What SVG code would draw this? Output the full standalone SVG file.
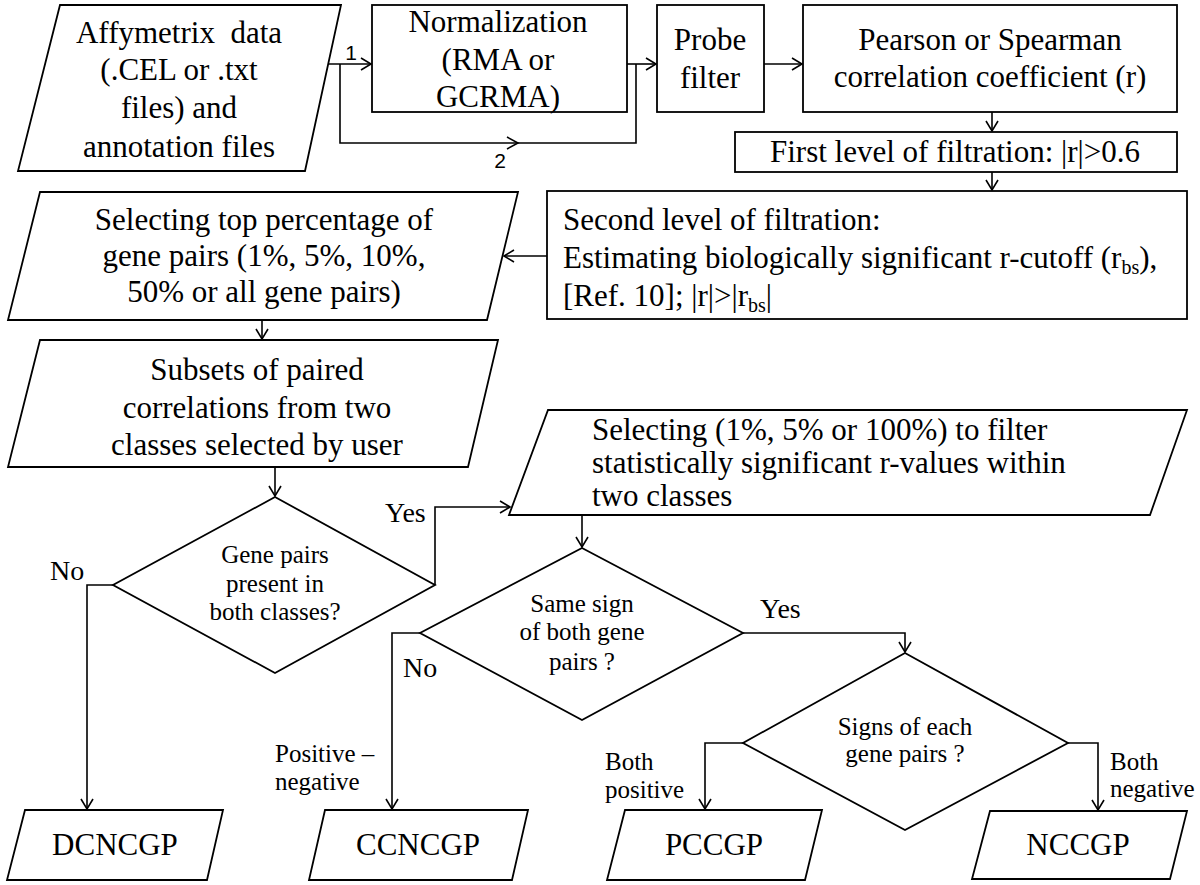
<svg xmlns="http://www.w3.org/2000/svg" width="1200" height="885" viewBox="0 0 1200 885">
<style>
.n{fill:#fff;stroke:#000;stroke-width:1.8}
.c{stroke:#000;stroke-width:1.6;fill:none}
</style>
<defs>
<marker id="a" markerUnits="userSpaceOnUse" markerWidth="14" markerHeight="14" refX="11" refY="7" orient="auto">
<path d="M1,1 L11,7 L1,13" fill="none" stroke="#000" stroke-width="1.6"/>
</marker>
</defs>
<rect width="1200" height="885" fill="#fff"/>

<g id="connectors">
<path class="c" d="M327,64 H371" marker-end="url(#a)"/>
<path class="c" d="M340,64 V143 H636 V64"/>
<path class="c" d="M507,137 L518,143 L507,149"/>
<path class="c" d="M627,64 H656" marker-end="url(#a)"/>
<path class="c" d="M764,64 H802" marker-end="url(#a)"/>
<path class="c" d="M992,112 V131" marker-end="url(#a)"/>
<path class="c" d="M992,172 V190" marker-end="url(#a)"/>
<path class="c" d="M547,256 H504" marker-end="url(#a)"/>
<path class="c" d="M262,320 V339" marker-end="url(#a)"/>
<path class="c" d="M275,467 V496" marker-end="url(#a)"/>
<path class="c" d="M435,585 V507 H510" marker-end="url(#a)"/>
<path class="c" d="M113,585 H87 V809" marker-end="url(#a)"/>
<path class="c" d="M582,515 V547" marker-end="url(#a)"/>
<path class="c" d="M420,633 H392 V809" marker-end="url(#a)"/>
<path class="c" d="M743,633 H905 V652" marker-end="url(#a)"/>
<path class="c" d="M743,743 H705 V809" marker-end="url(#a)"/>
<path class="c" d="M1068,743 H1098 V810" marker-end="url(#a)"/>
<text font-family="Liberation Sans" font-size="21" text-anchor="middle" x="351" y="60">1</text>
<text font-family="Liberation Sans" font-size="21" text-anchor="middle" x="500" y="168">2</text>
<text font-family="Liberation Serif" font-size="28" x="385" y="522">Yes</text>
<text font-family="Liberation Serif" font-size="28" x="50" y="580">No</text>
<text font-family="Liberation Serif" font-size="28" x="403" y="677">No</text>
<text font-family="Liberation Serif" font-size="28" x="760" y="618">Yes</text>
<text font-family="Liberation Serif" font-size="25" x="275" y="762">Positive –</text>
<text font-family="Liberation Serif" font-size="25" x="275" y="790">negative</text>
<text font-family="Liberation Serif" font-size="25" x="605" y="770">Both</text>
<text font-family="Liberation Serif" font-size="25" x="605" y="798">positive</text>
<text font-family="Liberation Serif" font-size="25" x="1110" y="770">Both</text>
<text font-family="Liberation Serif" font-size="25" x="1110" y="797">negative</text>
</g>

<g id="affymetrix">
<polygon class="n" points="60,5 341,5 305,171 18,171"/>
<text font-family="Liberation Serif" font-size="31" text-anchor="middle" x="179" y="43" xml:space="preserve">Affymetrix  data</text>
<text font-family="Liberation Serif" font-size="31" text-anchor="middle" x="179" y="80">(.CEL or .txt</text>
<text font-family="Liberation Serif" font-size="31" text-anchor="middle" x="179" y="118">files) and</text>
<text font-family="Liberation Serif" font-size="31" text-anchor="middle" x="179" y="157">annotation files</text>
</g>

<g id="normalization">
<rect class="n" x="372" y="5" width="255" height="107"/>
<text font-family="Liberation Serif" font-size="31" text-anchor="middle" x="498" y="32">Normalization</text>
<text font-family="Liberation Serif" font-size="31" text-anchor="middle" x="498" y="70">(RMA or</text>
<text font-family="Liberation Serif" font-size="31" text-anchor="middle" x="498" y="107">GCRMA)</text>
</g>

<g id="probe">
<rect class="n" x="657" y="5" width="107" height="107"/>
<text font-family="Liberation Serif" font-size="31" text-anchor="middle" x="710" y="50">Probe</text>
<text font-family="Liberation Serif" font-size="31" text-anchor="middle" x="710" y="88">filter</text>
</g>

<g id="pearson">
<rect class="n" x="803" y="5" width="374" height="107"/>
<text font-family="Liberation Serif" font-size="31" text-anchor="middle" x="990" y="50">Pearson or Spearman</text>
<text font-family="Liberation Serif" font-size="31" text-anchor="middle" x="990" y="87">correlation coefficient (r)</text>
</g>

<g id="first">
<rect class="n" x="735" y="132" width="442" height="40"/>
<text font-family="Liberation Serif" font-size="31" text-anchor="middle" x="955" y="162">First level of filtration: |r|&gt;0.6</text>
</g>

<g id="second">
<rect class="n" x="547" y="191" width="640" height="128"/>
<text font-family="Liberation Serif" font-size="31" x="563" y="230">Second level of filtration:</text>
<text font-family="Liberation Serif" font-size="31" x="563" y="268">Estimating biologically significant r-cutoff (r<tspan font-size="20" dy="6">bs</tspan><tspan dy="-6">),</tspan></text>
<text font-family="Liberation Serif" font-size="31" x="563" y="306">[Ref. 10]; |r|&gt;|r<tspan font-size="20" dy="6">bs</tspan><tspan dy="-6">|</tspan></text>
</g>

<g id="selecting-top">
<polygon class="n" points="40,192 518,192 487,320 8,320"/>
<text font-family="Liberation Serif" font-size="31" text-anchor="middle" x="264" y="230">Selecting top percentage of</text>
<text font-family="Liberation Serif" font-size="31" text-anchor="middle" x="264" y="266">gene pairs (1%, 5%, 10%,</text>
<text font-family="Liberation Serif" font-size="31" text-anchor="middle" x="264" y="302">50% or all gene pairs)</text>
</g>

<g id="subsets">
<polygon class="n" points="40,340 498,340 468,467 8,467"/>
<text font-family="Liberation Serif" font-size="31" text-anchor="middle" x="257" y="380">Subsets of paired</text>
<text font-family="Liberation Serif" font-size="31" text-anchor="middle" x="257" y="418">correlations from two</text>
<text font-family="Liberation Serif" font-size="31" text-anchor="middle" x="257" y="455">classes selected by user</text>
</g>

<g id="selecting-sig">
<polygon class="n" points="548,410 1187,410 1150,515 509,515"/>
<text font-family="Liberation Serif" font-size="31" x="592" y="440">Selecting (1%, 5% or 100%) to filter</text>
<text font-family="Liberation Serif" font-size="31" x="592" y="473">statistically significant r-values within</text>
<text font-family="Liberation Serif" font-size="31" x="592" y="506">two classes</text>
</g>

<g id="diamond-present">
<polygon class="n" points="275,497 435,585 275,673 113,585"/>
<text font-family="Liberation Serif" font-size="25" text-anchor="middle" x="275" y="563">Gene pairs</text>
<text font-family="Liberation Serif" font-size="25" text-anchor="middle" x="275" y="592">present in</text>
<text font-family="Liberation Serif" font-size="25" text-anchor="middle" x="275" y="620">both classes?</text>
</g>

<g id="diamond-same">
<polygon class="n" points="582,548 743,633 582,720 420,633"/>
<text font-family="Liberation Serif" font-size="25" text-anchor="middle" x="582" y="612">Same sign</text>
<text font-family="Liberation Serif" font-size="25" text-anchor="middle" x="582" y="640">of both gene</text>
<text font-family="Liberation Serif" font-size="25" text-anchor="middle" x="582" y="670">pairs ?</text>
</g>

<g id="diamond-signs">
<polygon class="n" points="905,653 1068,743 905,830 743,743"/>
<text font-family="Liberation Serif" font-size="25" text-anchor="middle" x="905" y="735">Signs of each</text>
<text font-family="Liberation Serif" font-size="25" text-anchor="middle" x="905" y="762">gene pairs ?</text>
</g>

<g id="dcncgp">
<polygon class="n" points="25,810 223,810 207,880 7,880"/>
<text font-family="Liberation Serif" font-size="31" text-anchor="middle" x="115" y="855">DCNCGP</text>
</g>

<g id="ccncgp">
<polygon class="n" points="325,810 528,810 512,880 309,880"/>
<text font-family="Liberation Serif" font-size="31" text-anchor="middle" x="418" y="855">CCNCGP</text>
</g>

<g id="pccgp">
<polygon class="n" points="625,810 822,810 805,880 607,880"/>
<text font-family="Liberation Serif" font-size="31" text-anchor="middle" x="714" y="855">PCCGP</text>
</g>

<g id="nccgp">
<polygon class="n" points="990,811 1187,811 1170,879 972,879"/>
<text font-family="Liberation Serif" font-size="31" text-anchor="middle" x="1078" y="855">NCCGP</text>
</g>
</svg>
